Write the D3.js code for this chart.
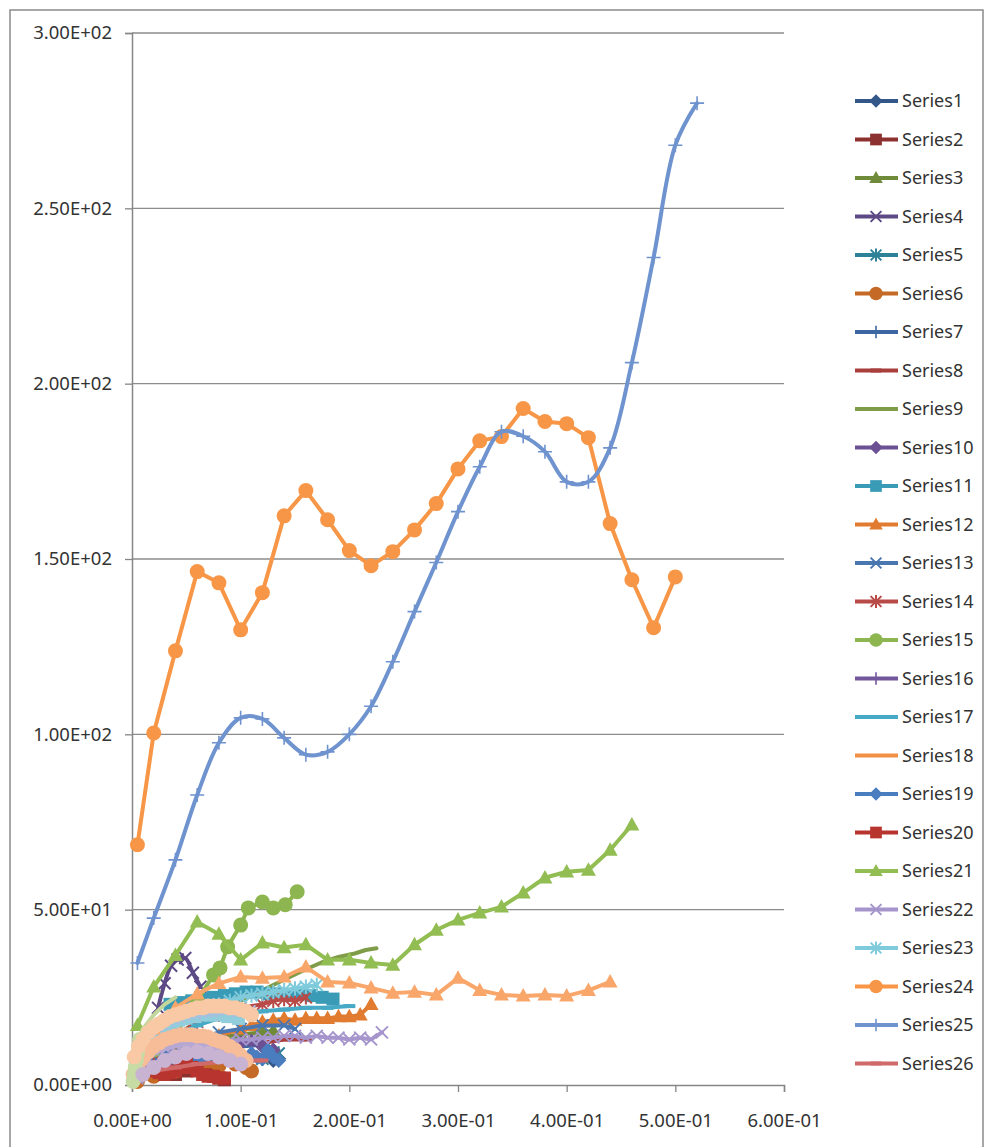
<!DOCTYPE html>
<html>
<head>
<meta charset="utf-8">
<script src="https://cdn.jsdelivr.net/npm/d3@7"></script>
<style>
  body { margin: 0; background: #ffffff; }
  svg { display: block; }
  text { font-family: "Noto Sans", "DejaVu Sans", sans-serif; fill: #333333; }
</style>
</head>
<body>
<svg id="chart" width="986" height="1147"></svg>
<script>
// ---- axis ticks ----
const xTickValues = [0, 0.1, 0.2, 0.3, 0.4, 0.5, 0.6];
const xTickLabels = ["0.00E+00", "1.00E-01", "2.00E-01", "3.00E-01", "4.00E-01", "5.00E-01", "6.00E-01"];
const yTickValues = [0, 50, 100, 150, 200, 250, 300];
const yTickLabels = ["0.00E+00", "5.00E+01", "1.00E+02", "1.50E+02", "2.00E+02", "2.50E+02", "3.00E+02"];

// ---- series values ----
const s1x = [0.005, 0.02, 0.04, 0.06, 0.08, 0.10, 0.11, 0.12, 0.125, 0.13, 0.135];
const s1y = [2, 4, 5.5, 6.5, 7, 7.5, 8, 7.5, 9, 7, 7.5];
const s2x = [0.015, 0.02, 0.03, 0.04, 0.05, 0.06, 0.07, 0.075, 0.08, 0.085];
const s2y = [4, 5, 4.5, 3, 4, 5.5, 3.5, 2.5, 2, 1.5];
const s3x = [0.005, 0.02, 0.04, 0.06, 0.08, 0.10, 0.12, 0.13];
const s3y = [3, 7, 10, 12, 13.5, 14.5, 15, 15.5];
const s4x = [0.024, 0.03, 0.036, 0.042, 0.049, 0.056, 0.063];
const s4y = [22, 29, 34, 35.8, 36.2, 32, 28];
const s5x = [0.005, 0.02, 0.04, 0.06, 0.08, 0.10, 0.12, 0.13, 0.135];
const s5y = [2, 4, 5, 6, 6.5, 7, 7.5, 8.5, 9];
const s6x = [0.005, 0.02, 0.04, 0.06, 0.08, 0.095, 0.105, 0.11];
const s6y = [1, 2.5, 4, 5, 5.5, 6, 5, 4];
const s7x = [0.005, 0.02, 0.04, 0.06, 0.08, 0.10, 0.12];
const s7y = [3, 6, 8, 9, 10, 11, 11.5];
const s8x = [0.005, 0.02, 0.04, 0.06, 0.08, 0.10, 0.12, 0.14, 0.16];
const s8y = [2, 5, 8, 10, 11, 12, 12, 13, 13];
const s9x = [0.005, 0.02, 0.04, 0.06, 0.08, 0.10, 0.12, 0.14, 0.16, 0.175, 0.19, 0.205, 0.215, 0.225];
const s9y = [4, 9, 14, 18, 21, 24, 27, 30, 33, 35, 36.5, 37.5, 38.5, 39];
const s10x = [0.005, 0.02, 0.04, 0.06, 0.08, 0.09, 0.10, 0.11, 0.12, 0.13];
const s10y = [3, 6, 9, 10, 11, 11.5, 12, 12.5, 11, 10];
const s11x = [0.035, 0.045, 0.055, 0.065, 0.075, 0.085, 0.095, 0.105, 0.115, 0.125, 0.135, 0.145, 0.155, 0.165, 0.175, 0.185];
const s11y = [23, 23.5, 24, 24.5, 25, 25.5, 26, 26.5, 26.5, 26, 26, 25.5, 26, 25.5, 25, 24.5];
const s12x = [0.005, 0.02, 0.04, 0.06, 0.08, 0.10, 0.11, 0.12, 0.13, 0.14, 0.15, 0.16, 0.17, 0.18, 0.19, 0.20, 0.21, 0.22];
const s12y = [3, 6, 9, 12, 14, 16, 17, 18, 18.5, 19, 18.5, 19, 19, 19, 19.5, 19.5, 20, 23];
const s13x = [0.005, 0.02, 0.04, 0.06, 0.08, 0.10, 0.12, 0.14, 0.15];
const s13y = [3, 7, 11, 13, 15, 16, 17, 17, 16];
const s14x = [0.005, 0.02, 0.04, 0.06, 0.08, 0.10, 0.12, 0.13, 0.14, 0.15, 0.16];
const s14y = [4, 9, 14, 18, 20, 22, 23, 24, 24.5, 24, 25];
const s15x = [0.005, 0.02, 0.04, 0.06, 0.075, 0.081, 0.088, 0.10, 0.107, 0.12, 0.13, 0.141, 0.152];
const s15y = [5, 10, 16, 24, 31.4, 33.4, 39.4, 45.6, 50.5, 52.2, 50.5, 51.4, 55.1];
const s16x = [0.005, 0.02, 0.04, 0.06, 0.08, 0.10];
const s16y = [2, 5, 7, 8, 8.5, 9];
const s17x = [0.005, 0.02, 0.04, 0.06, 0.08, 0.10, 0.12, 0.14, 0.16, 0.18, 0.20];
const s17y = [5, 10, 14, 17, 19, 20, 21, 21.5, 22, 22, 22.5];
const s18x = [0.005, 0.02, 0.04, 0.06, 0.08, 0.10, 0.12, 0.14];
const s18y = [6, 12, 17, 21, 23, 25, 26, 27];
const s19x = [0.005, 0.02, 0.04, 0.06, 0.08, 0.10, 0.11, 0.115, 0.12, 0.125, 0.13, 0.135];
const s19y = [2, 4, 6, 7, 8, 8.5, 9, 8, 7.5, 10, 8, 7];
const s20x = [0.01, 0.015, 0.02, 0.025, 0.03, 0.035, 0.04, 0.045, 0.05, 0.055, 0.06, 0.065, 0.07, 0.075, 0.08, 0.085];
const s20y = [5, 4.5, 4, 3.5, 3, 3.5, 4, 5, 6, 5, 4, 3, 2.5, 2.5, 2, 2];
const s21x = [0.005, 0.02, 0.04, 0.06, 0.08, 0.10, 0.12, 0.14, 0.16, 0.18, 0.20, 0.22, 0.24, 0.26,
              0.28, 0.30, 0.32, 0.34, 0.36, 0.38, 0.40, 0.42, 0.44, 0.46];
const s21y = [17, 28, 37, 46.5, 43, 35.7, 40.5, 39.2, 40, 35.7, 35.7, 34.8, 34.2, 40, 44.2, 47.1,
              49.1, 50.8, 54.8, 59.1, 60.8, 61.3, 67, 74.2];
const s22x = [0.005, 0.01, 0.02, 0.03, 0.04, 0.05, 0.06, 0.07, 0.08, 0.09, 0.10, 0.11, 0.12,
              0.13, 0.14, 0.15, 0.16, 0.17, 0.18, 0.19, 0.20, 0.21, 0.22, 0.23];
const s22y = [2, 4, 6, 8, 9, 10, 11, 11.5, 12, 12.5, 13, 13, 13.5, 13.5, 14, 14, 13.5, 14, 13.5, 13.5, 13, 13.5, 13, 15];
const s23x = [0.005, 0.01, 0.02, 0.03, 0.04, 0.05, 0.06, 0.07, 0.08, 0.09, 0.10, 0.11, 0.12, 0.13, 0.14, 0.15, 0.16, 0.17];
const s23y = [5, 8, 12, 15, 17, 19, 20.5, 22, 23, 24, 25, 25.5, 26, 26.5, 27, 27.5, 28, 28.5];
const s24x = [0.005, 0.02, 0.04, 0.06, 0.08, 0.10, 0.12, 0.14, 0.16, 0.18, 0.20, 0.22, 0.24, 0.26,
              0.28, 0.30, 0.32, 0.34, 0.36, 0.38, 0.40, 0.42, 0.44, 0.46, 0.48, 0.50];
const s24y = [68.5, 100.4, 123.8, 146.4, 143.2, 129.8, 140.4, 162.3, 169.5, 161.2, 152.4, 148.1, 152.1,
              158.3, 165.8, 175.7, 183.7, 184.9, 192.9, 189.2, 188.6, 184.6, 160.1, 144.1, 130.4, 144.9];
const s25x = [0.005, 0.02, 0.04, 0.06, 0.08, 0.10, 0.12, 0.14, 0.16, 0.18, 0.20, 0.22, 0.24, 0.26,
              0.28, 0.30, 0.32, 0.34, 0.36, 0.38, 0.40, 0.42, 0.44, 0.46, 0.48, 0.50, 0.52];
const s25y = [34.8, 47.6, 64.2, 82.7, 97.6, 104.7, 104.4, 99, 94.2, 95, 100, 108, 120.7, 135, 149,
              163.5, 176.3, 186.3, 185, 180.6, 172, 172, 181.7, 206, 236, 268, 280];
const s26x = [0.005, 0.02, 0.04, 0.06, 0.08, 0.10, 0.12];
const s26y = [2, 4, 5, 6, 6.5, 7, 7];
// further series (beyond the entries shown in the legend box)
const s27x = [0, 0.002, 0.004, 0.006, 0.01, 0.02, 0.03, 0.04];
const s27y = [0, 6, 10, 13, 16, 20, 23, 25];
const s28x = [0.003, 0.008, 0.013, 0.018, 0.023, 0.028, 0.033, 0.038, 0.043, 0.048, 0.053, 0.058,
              0.063, 0.068, 0.073, 0.078, 0.083, 0.088];
const s28y = [3, 6, 8, 9.5, 10.5, 11, 11.5, 12, 12, 12.5, 12.5, 12.5, 12, 12, 11.5, 11, 10, 9];
const s29x = [0.003, 0.008, 0.013, 0.018, 0.023, 0.028, 0.033, 0.038, 0.043, 0.048, 0.053, 0.058,
              0.063, 0.068, 0.073, 0.078, 0.083, 0.088, 0.093, 0.098];
const s29y = [5, 9, 12, 14, 15.5, 16.5, 17.5, 18, 18.5, 19, 19.5, 19.5, 20, 20, 20, 20, 20, 19.5, 19.5, 19];
const s30x = [0.02, 0.04, 0.06, 0.08, 0.10, 0.12, 0.14, 0.16, 0.18, 0.20, 0.22, 0.24, 0.26, 0.28,
              0.30, 0.32, 0.34, 0.36, 0.38, 0.40, 0.42, 0.44];
const s30y = [16, 22, 26, 29, 30.8, 30.5, 30.8, 33.7, 29.4, 29.1, 27.7, 26.2, 26.5, 25.7, 30.5, 27,
              25.7, 25.4, 25.7, 25.4, 27, 29.4];
const s31x = [0.003, 0.008, 0.013, 0.018, 0.023, 0.028, 0.033, 0.038, 0.043, 0.048, 0.053, 0.058,
              0.063, 0.068, 0.073, 0.078, 0.083, 0.088, 0.093, 0.098, 0.103, 0.108];
const s31y = [6, 10, 13, 15, 16.5, 17.5, 18.5, 19, 19.5, 20, 20.5, 20.5, 21, 21, 21, 21.5, 21.5, 21.5, 21.5, 21, 21, 21];
const s32x = [0.001, 0.005, 0.01, 0.015, 0.02, 0.025, 0.03, 0.035, 0.04, 0.045, 0.05, 0.055, 0.06,
              0.065, 0.07, 0.075, 0.08, 0.085, 0.09, 0.095, 0.1, 0.105];
const s32y = [3, 5, 7.5, 9.5, 11, 12, 13, 13.5, 14, 14.3, 14.3, 14.3, 14, 14, 13.7, 13, 12.5, 12, 11, 10, 8.5, 7];
const s33x = [0.001, 0.002, 0.003, 0.004, 0.005, 0.006, 0.007];
const s33y = [1, 3, 5, 7, 9, 11, 13];
const s34x = [0.002, 0.006, 0.01, 0.015, 0.02, 0.025, 0.03, 0.035, 0.04, 0.045, 0.05, 0.055, 0.06,
              0.065, 0.07, 0.075, 0.08, 0.085, 0.09, 0.095, 0.1, 0.105, 0.11];
const s34y = [8, 11, 13, 15, 16.5, 17.5, 18.5, 19.5, 20, 20.5, 21, 21.5, 22, 22, 22.5, 22.5, 22.5,
              22.5, 22, 22, 21.5, 21, 20];
const s35x = [0.01, 0.02, 0.03, 0.04, 0.05, 0.06, 0.07, 0.08, 0.09, 0.10];
const s35y = [3, 5, 7, 8, 9, 9.5, 9, 8, 7, 6];

// ---- series styling ----
const seriesNames = ["Series1", "Series2", "Series3", "Series4", "Series5", "Series6", "Series7", "Series8",
  "Series9", "Series10", "Series11", "Series12", "Series13", "Series14", "Series15", "Series16", "Series17",
  "Series18", "Series19", "Series20", "Series21", "Series22", "Series23", "Series24", "Series25", "Series26",
  "Series27", "Series28", "Series29", "Series30", "Series31", "Series32", "Series33", "Series34", "Series35"];
const seriesColors = ["#34578a", "#8c3130", "#6f8b3a", "#5d4a85", "#2e8298", "#c46a26", "#3d67a3", "#a93f3c",
  "#7f9c48", "#6b5193", "#3a9bb7", "#e07b30", "#4a77b0", "#b84a48", "#8db650", "#73579c", "#46a9c5",
  "#f08f45", "#4a7dc0", "#b8352f", "#92bd52", "#a595cc", "#7fcbdc", "#f79646", "#6f93cf", "#d06a6a",
  "#c3d69b", "#b7a8d3", "#92cddc", "#f9a66b", "#a7bfdf", "#f7bc98", "#c7dba5", "#f9c8a4", "#c9b3d2"];
const seriesMarkers = ["diamond", "square", "triangle", "x", "star", "circle", "plus", "dash",
  "none", "diamond", "square", "triangle", "x", "star", "circle", "plus", "dash",
  "none", "diamond", "square", "triangle", "x", "star", "circle", "plus", "dash",
  "none", "diamond", "square", "triangle", "x", "circle", "circle", "circle", "circle"];
const seriesSmooth = [false, false, false, true, false, false, false, false, false, false, false, false,
  false, false, false, false, false, false, false, false, false, false, false, false, true, false,
  false, false, false, false, false, true, false, true, true];
const seriesX = [s1x, s2x, s3x, s4x, s5x, s6x, s7x, s8x, s9x, s10x, s11x, s12x, s13x, s14x, s15x, s16x,
  s17x, s18x, s19x, s20x, s21x, s22x, s23x, s24x, s25x, s26x, s27x, s28x, s29x, s30x, s31x, s32x,
  s33x, s34x, s35x];
const seriesY = [s1y, s2y, s3y, s4y, s5y, s6y, s7y, s8y, s9y, s10y, s11y, s12y, s13y, s14y, s15y, s16y,
  s17y, s18y, s19y, s20y, s21y, s22y, s23y, s24y, s25y, s26y, s27y, s28y, s29y, s30y, s31y, s32y,
  s33y, s34y, s35y];
const legendCount = 26;

// ---- layout ----
const svg = d3.select("#chart");
const plot = { left: 132, right: 784, top: 33, bottom: 1085 };
const x = d3.scaleLinear().domain([0, 0.6]).range([plot.left, plot.right]);
const y = d3.scaleLinear().domain([0, 300]).range([plot.bottom, plot.top]);
const labelFont = 18.5;

// outer chart frame
svg.append("rect").attr("x", 10).attr("y", 10).attr("width", 973).attr("height", 1160)
  .attr("fill", "#ffffff").attr("stroke", "#8a8a8a").attr("stroke-width", 1.5);

// horizontal gridlines
svg.append("g").selectAll("line").data(yTickValues.filter(v => v > 0)).join("line")
  .attr("x1", plot.left).attr("x2", plot.right)
  .attr("y1", d => y(d)).attr("y2", d => y(d))
  .attr("stroke", "#8c8c8c").attr("stroke-width", 1.3);

// y axis
const yAxis = d3.axisLeft(y).tickValues(yTickValues).tickSize(7).tickPadding(13)
  .tickFormat((d, i) => yTickLabels[i]);
const gy = svg.append("g").attr("transform", `translate(${plot.left},0)`).call(yAxis);
gy.select(".domain").attr("stroke", "#868686").attr("stroke-width", 1.5);
gy.selectAll(".tick line").attr("stroke", "#868686").attr("stroke-width", 1.3);
gy.selectAll(".tick text").attr("font-size", labelFont).attr("fill", "#333").attr("font-family", "Noto Sans");

// x axis
const xAxis = d3.axisBottom(x).tickValues(xTickValues).tickSize(7).tickPadding(22)
  .tickFormat((d, i) => xTickLabels[i]);
const gx = svg.append("g").attr("transform", `translate(0,${plot.bottom})`).call(xAxis);
gx.select(".domain").attr("stroke", "#868686").attr("stroke-width", 1.5);
gx.selectAll(".tick line").attr("stroke", "#868686").attr("stroke-width", 1.3);
gx.selectAll(".tick text").attr("font-size", labelFont).attr("fill", "#333").attr("font-family", "Noto Sans");

// ---- marker drawing ----
function drawMarker(g, type, cx, cy, color, s) {
  const k = s || 1;
  if (type === "diamond") {
    const r = 7.5 * k;
    g.append("path").attr("d", `M${cx},${cy - r}L${cx + r},${cy}L${cx},${cy + r}L${cx - r},${cy}Z`).attr("fill", color);
  } else if (type === "square") {
    const r = 6.5 * k;
    g.append("rect").attr("x", cx - r).attr("y", cy - r).attr("width", 2 * r).attr("height", 2 * r).attr("fill", color);
  } else if (type === "triangle") {
    const r = 7.5 * k;
    g.append("path").attr("d", `M${cx},${cy - r * 1.05}L${cx + r},${cy + r * 0.75}L${cx - r},${cy + r * 0.75}Z`).attr("fill", color);
  } else if (type === "circle") {
    g.append("circle").attr("cx", cx).attr("cy", cy).attr("r", 7.5 * k).attr("fill", color);
  } else if (type === "x" || type === "star") {
    const r = 6 * k;
    g.append("path").attr("d", `M${cx - r},${cy - r}L${cx + r},${cy + r}M${cx - r},${cy + r}L${cx + r},${cy - r}` +
      (type === "star" ? `M${cx},${cy - r * 1.2}L${cx},${cy + r * 1.2}` : ""))
      .attr("stroke", color).attr("stroke-width", 2).attr("fill", "none");
  } else if (type === "plus") {
    const r = 7 * k;
    g.append("path").attr("d", `M${cx - r},${cy}L${cx + r},${cy}M${cx},${cy - r}L${cx},${cy + r}`)
      .attr("stroke", color).attr("stroke-width", 1.6).attr("fill", "none");
  } else if (type === "dash") {
    const r = 6 * k;
    g.append("path").attr("d", `M${cx - r},${cy}L${cx + r},${cy}`)
      .attr("stroke", color).attr("stroke-width", 4).attr("fill", "none");
  }
}

// ---- series ----
const seriesLayer = svg.append("g");
seriesNames.forEach((name, i) => {
  const pts = seriesY[i].map((yv, j) => [seriesX[i][j], yv]);
  const g = seriesLayer.append("g").attr("class", "series");
  const line = d3.line().x(d => x(d[0])).y(d => y(d[1]))
    .curve(seriesSmooth[i] ? d3.curveCatmullRom.alpha(0.5) : d3.curveLinear);
  g.append("path").datum(pts).attr("d", line)
    .attr("fill", "none").attr("stroke", seriesColors[i]).attr("stroke-width", 4)
    .attr("stroke-linejoin", "round").attr("stroke-linecap", "round");
  pts.forEach(p => drawMarker(g, seriesMarkers[i], x(p[0]), y(p[1]), seriesColors[i], 1));
});

// ---- legend ----
const legend = svg.append("g");
seriesNames.slice(0, legendCount).forEach((name, i) => {
  const ly = 101 + i * 38.5;
  const g = legend.append("g");
  g.append("line").attr("x1", 855).attr("x2", 898).attr("y1", ly).attr("y2", ly)
    .attr("stroke", seriesColors[i]).attr("stroke-width", 4);
  drawMarker(g, seriesMarkers[i], 876, ly, seriesColors[i], 0.9);
  g.append("text").attr("x", 902).attr("y", ly).attr("dy", "0.35em")
    .attr("font-size", 18).text(name);
});
</script>
</body>
</html>
